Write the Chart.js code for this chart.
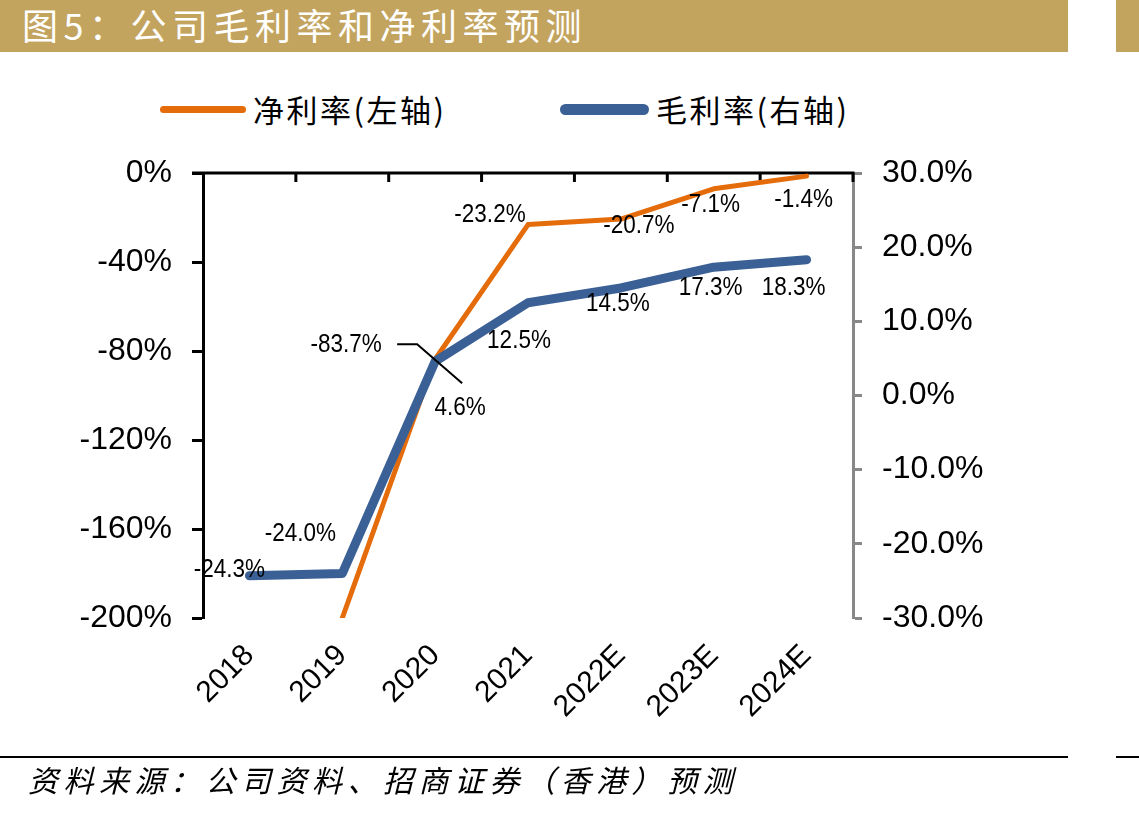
<!DOCTYPE html>
<html>
<head>
<meta charset="utf-8">
<script src="https://cdn.jsdelivr.net/npm/chart.js@4.4.1/dist/chart.umd.min.js"></script>
<style>
  html, body { margin:0; padding:0; background:#fff; }
  body { width:1139px; height:813px; position:relative; overflow:hidden; font-family:"Noto Sans CJK SC", sans-serif; }
  .band { position:absolute; top:0; height:52px; background:#C3A45F; }
  .rule { position:absolute; top:756px; height:2px; background:#000; }
  #title { position:absolute; left:22px; top:1px; color:#fff; font-size:36px; line-height:46px; letter-spacing:5.5px; white-space:nowrap; }
  #source { position:absolute; left:28px; top:758px; font-size:30px; line-height:42px; font-style:italic; letter-spacing:5.5px; white-space:nowrap; color:#000; }
  .leg { position:absolute; font-size:31px; line-height:40px; letter-spacing:2.5px; white-space:nowrap; color:#000; top:89px; }
  .legline { position:absolute; border-radius:6px; }
  #chart { position:absolute; left:0; top:0; }
</style>
</head>
<body>
<div class="band" style="left:0;width:1068px;"></div>
<div class="band" style="left:1116px;width:23px;"></div>
<div id="title">图5：公司毛利率和净利率预测</div>
<div class="legline" style="left:160px;top:106px;width:86px;height:7px;background:#E46C0A;"></div>
<div class="leg" style="left:253px;">净利率(左轴)</div>
<div class="legline" style="left:560px;top:104px;width:89px;height:11px;background:#3A6095;"></div>
<div class="leg" style="left:656px;">毛利率(右轴)</div>
<canvas id="chart" width="1139" height="813"></canvas>
<div class="rule" style="left:0;width:1068px;"></div>
<div class="rule" style="left:1116px;width:23px;"></div>
<div id="source">资料来源：公司资料、招商证券（香港）预测</div>
<script>
// ---- data ----
const categories = ['2018', '2019', '2020', '2021', '2022E', '2023E', '2024E'];
const netMargin = [null, -200, -83.7, -23.2, -20.7, -7.1, -1.4];     // 净利率 (左轴, %)
const grossMargin = [-24.3, -24.0, 4.6, 12.5, 14.5, 17.3, 18.3];     // 毛利率 (右轴, %)
const netLabelShown = [false, false, true, true, true, true, true];
const grossLabelShown = [true, true, true, true, true, true, true];
const leftTicks = { min: -200, max: 0, step: 40 };
const rightTicks = { min: -30, max: 30, step: 10 };

// ---- label placement (style) ----
const netLabelOffsets = [null, null, [-89, -14], [-38, -10], [18, 7], [-3, 16], [-3, 24]];
const grossLabelOffsets = [[-20, -6], [-42, -39], [25, 47], [-9, 38], [-3, 16], [-3, 21], [-13, 28]];

const NUM_FONT = '"Liberation Sans", Arial, sans-serif';

const topAxisPlugin = {
  id: 'topAxis',
  beforeDatasetsDraw(chart) {
    const { ctx, chartArea } = chart;
    const x = chart.scales.x;
    const y = chart.scales.y;
    const y0 = y.getPixelForValue(0);
    ctx.save();
    ctx.strokeStyle = '#000';
    ctx.lineWidth = 3;
    ctx.beginPath();
    ctx.moveTo(chartArea.left - 11, y0);
    ctx.lineTo(chartArea.right + 1.5, y0);
    ctx.stroke();
    const n = categories.length;
    const w = (chartArea.right - chartArea.left) / n;
    ctx.beginPath();
    for (let i = 1; i <= n; i++) {
      const px = Math.min(x.getPixelForValue(i - 1) + w / 2, chartArea.right);
      ctx.moveTo(px, y0);
      ctx.lineTo(px, y0 + 9);
    }
    ctx.stroke();
    ctx.restore();
  }
};

const dataLabelPlugin = {
  id: 'dataLabels',
  afterDatasetsDraw(chart) {
    const { ctx } = chart;
    ctx.save();
    ctx.fillStyle = '#000';
    ctx.font = '25px ' + NUM_FONT;
    ctx.textAlign = 'center';
    ctx.textBaseline = 'middle';
    const draw = (meta, values, shown, offsets) => {
      meta.data.forEach((pt, i) => {
        if (!shown[i] || values[i] == null) return;
        const [dx, dy] = offsets[i];
        ctx.save();
        ctx.translate(pt.x + dx, pt.y + dy);
        ctx.scale(0.9, 1);
        ctx.fillText(values[i].toFixed(1) + '%', 0, 0);
        ctx.restore();
      });
    };
    const netMeta = chart.getDatasetMeta(0);
    const grossMeta = chart.getDatasetMeta(1);
    draw(netMeta, netMargin, netLabelShown, netLabelOffsets);
    draw(grossMeta, grossMargin, grossLabelShown, grossLabelOffsets);
    // leader line for the 2020 net margin label
    const p = netMeta.data[2];
    ctx.strokeStyle = '#000';
    ctx.lineWidth = 2;
    ctx.beginPath();
    ctx.moveTo(p.x - 38, p.y - 15);
    ctx.lineTo(p.x - 18, p.y - 15);
    ctx.lineTo(p.x + 27, p.y + 24);
    ctx.stroke();
    ctx.restore();
  }
};

new Chart(document.getElementById('chart'), {
  type: 'line',
  data: {
    labels: categories,
    datasets: [
      {
        label: '净利率(左轴)',
        data: netMargin,
        yAxisID: 'y',
        borderColor: '#E46C0A',
        backgroundColor: '#E46C0A',
        borderWidth: 5,
        pointRadius: 0,
        tension: 0,
        borderCapStyle: 'round',
        borderJoinStyle: 'round',
        spanGaps: false,
        order: 1
      },
      {
        label: '毛利率(右轴)',
        data: grossMargin,
        yAxisID: 'y1',
        borderColor: '#3A6095',
        backgroundColor: '#3A6095',
        borderWidth: 9,
        pointRadius: 0,
        tension: 0,
        borderCapStyle: 'round',
        borderJoinStyle: 'round',
        order: 0
      }
    ]
  },
  options: {
    responsive: false,
    animation: false,
    devicePixelRatio: 1,
    layout: { padding: { left: 0, right: 0, top: 173, bottom: 0 } },
    plugins: { legend: { display: false }, tooltip: { enabled: false } },
    scales: {
      x: {
        type: 'category',
        offset: true,
        grid: { display: false },
        border: { display: false },
        ticks: {
          maxRotation: 45, minRotation: 45,
          color: '#000',
          font: { family: NUM_FONT, size: 30 },
          padding: 12
        },
        afterFit(s) { s.height = 195; }
      },
      y: {
        position: 'left',
        min: leftTicks.min, max: leftTicks.max,
        ticks: {
          stepSize: leftTicks.step,
          callback: v => v + '%',
          color: '#000',
          font: { family: NUM_FONT, size: 32 },
          padding: 20
        },
        grid: { drawOnChartArea: false, tickLength: 11, tickWidth: 3, tickColor: '#000' },
        border: { color: '#000', width: 3 },
        afterFit(s) { s.width = 203; }
      },
      y1: {
        position: 'right',
        min: rightTicks.min, max: rightTicks.max,
        ticks: {
          stepSize: rightTicks.step,
          callback: v => v.toFixed(1) + '%',
          color: '#000',
          font: { family: NUM_FONT, size: 32 },
          padding: 20
        },
        grid: { drawOnChartArea: false, tickLength: 9, tickWidth: 3, tickColor: '#888' },
        border: { color: '#888', width: 3 },
        afterFit(s) { s.width = 286; }
      }
    }
  },
  plugins: [topAxisPlugin, dataLabelPlugin]
});
</script>
</body>
</html>
